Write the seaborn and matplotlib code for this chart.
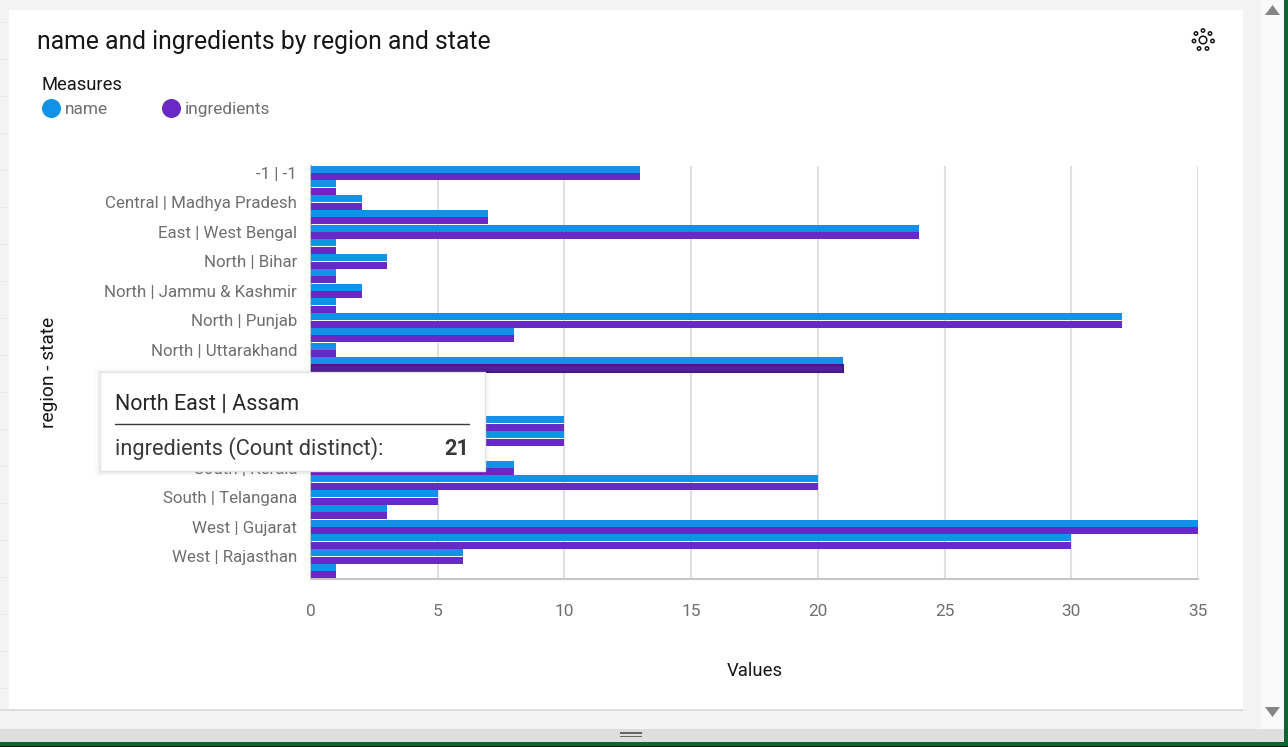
import matplotlib
matplotlib.use('Agg')
import matplotlib.pyplot as plt
from matplotlib.lines import Line2D
from matplotlib.patches import Circle, Polygon, Rectangle
import pandas as pd
import seaborn as sns

# Values. The rows behind the tooltip are estimates.
categories = [
    '-1 | -1', 'Central | Chhattisgarh', 'Central | Madhya Pradesh', 'East | Odisha',
    'East | West Bengal', 'North | Delhi', 'North | Bihar', 'North | Haryana',
    'North | Jammu & Kashmir', 'North | Manipur', 'North | Punjab', 'North | Uttar Pradesh',
    'North | Uttarakhand', 'North East | Assam', 'North East | Manipur', 'North East | Nagaland',
    'North East | Tripura', 'South | Andhra Pradesh', 'South | Goa', 'South | Karnataka',
    'South | Kerala', 'South | Tamil Nadu', 'South | Telangana', 'West | Goa',
    'West | Gujarat', 'West | Maharashtra', 'West | Rajasthan', 'West | Uttar Pradesh',
]
name_counts = [13, 1, 2, 7, 24, 1, 3, 1, 2, 1, 32, 8, 1, 21, 1, 2, 1, 10, 10, 6, 8, 20, 5, 3, 35, 30, 6, 1]
ingredient_counts = [13, 1, 2, 7, 24, 1, 3, 1, 2, 1, 32, 8, 1, 21, 1, 2, 1, 10, 10, 6, 8, 20, 5, 3, 35, 30, 6, 1]
x_ticks = [0, 5, 10, 15, 20, 25, 30, 35]

BLUE = '#1192e8'
PURPLE = '#6929c4'
GREY_TEXT = '#6f6f6f'
DARK_TEXT = '#161616'

W, H = 1288, 747

data = pd.DataFrame({
    'category': categories * 2,
    'value': name_counts + ingredient_counts,
    'measure': ['name'] * len(categories) + ['ingredients'] * len(categories),
})

sns.set_theme(style='white')
plt.rcParams['font.family'] = ['Roboto', 'DejaVu Sans']

fig = plt.figure(figsize=(W / 100, H / 100), dpi=100, facecolor='#f3f3f3')

# --- window chrome behind the chart, drawn in pixel coordinates ---
bg = fig.add_axes([0, 0, 1, 1], zorder=0)
bg.set_xlim(0, W)
bg.set_ylim(H, 0)
bg.axis('off')
for y in range(22, 705, 37):
    bg.add_patch(Rectangle((0, y), 9, 1, color='#ebebeb', lw=0))
bg.add_patch(Rectangle((9, 10), 1234, 699, color='white', lw=0))
bg.add_patch(Rectangle((0, 709), 1243, 2, color='#dcdcdc', lw=0))
bg.add_patch(Rectangle((1261, 0), 23, 729, color='#f9f9f9', lw=0))
bg.add_patch(Rectangle((0, 729), 1284, 13, color='#dedede', lw=0))
bg.add_patch(Rectangle((1284, 0), 4, H, color='#0f6434', lw=0))
bg.add_patch(Rectangle((0, 742), W, 4, color='#0f6434', lw=0))
bg.add_patch(Rectangle((0, 746), W, 1, color='#111111', lw=0))
bg.add_patch(Rectangle((620, 732), 22, 1.5, color='#666666', lw=0))
bg.add_patch(Rectangle((620, 735.5), 22, 1.5, color='#666666', lw=0))
bg.add_patch(Polygon([(1265, 15), (1272.5, 5), (1280, 15)], color='#858585', lw=0))
bg.add_patch(Polygon([(1265, 707), (1272.5, 717), (1280, 707)], color='#858585', lw=0))

# --- the chart ---
ax = fig.add_axes([311 / W, 1 - 578.5 / H, (1198 - 311) / W, (578.5 - 165.5) / H], zorder=1)
ax.patch.set_alpha(0)
sns.barplot(data=data, y='category', x='value', hue='measure', order=categories,
            hue_order=['name', 'ingredients'], palette=[BLUE, PURPLE], orient='y',
            width=1.0, gap=0.06, saturation=1, linewidth=0, legend=False, ax=ax, zorder=3)

ax.set_xlim(0, 35)
ax.set_ylim(len(categories) - 0.5, -0.5)
ax.set_xticks(x_ticks)
ax.set_xticklabels([str(t) for t in x_ticks], fontsize=12.4, color=GREY_TEXT)
ax.set_yticks(range(len(categories)))
ax.set_yticklabels([c if i % 2 == 0 else '' for i, c in enumerate(categories)],
                   fontsize=12.2, color=GREY_TEXT)
ax.tick_params(axis='x', length=0, pad=18.5)
ax.tick_params(axis='y', length=0, pad=10)
ax.grid(axis='x', color='#e0e0e0', lw=1.5, zorder=0)
ax.grid(axis='y', visible=False)
ax.set_axisbelow(True)
for side in ['top', 'right']:
    ax.spines[side].set_visible(False)
ax.spines['bottom'].set_color('#c6c6c6')
ax.spines['bottom'].set_linewidth(1.5)
ax.spines['left'].set_color('#c6c6c6')
ax.spines['left'].set_linewidth(1.5)
ax.set_xlabel('Values', fontsize=13.3, color=DARK_TEXT)
ax.xaxis.set_label_coords((754.5 - 311) / (1198 - 311), -(671 - 578) / (578 - 165))
ax.xaxis.label.set_verticalalignment('center')
ax.set_ylabel('region - state', fontsize=13.8, color=DARK_TEXT)
ax.yaxis.set_label_coords((48.5 - 311) / (1198 - 311), (578 - 372) / (578 - 165))
ax.yaxis.label.set_verticalalignment('center')

# the hovered bar is drawn darker
hovered = ax.containers[1][categories.index('North East | Assam')]
hovered.set_facecolor('#52209c')
hovered.set_edgecolor('#43198a')
hovered.set_linewidth(1.5)

# --- title, legend, tooltip on top ---
top = fig.add_axes([0, 0, 1, 1], zorder=2)
top.set_xlim(0, W)
top.set_ylim(H, 0)
top.axis('off')

top.text(37, 42, 'name and ingredients by region and state', fontsize=17.85,
         color=DARK_TEXT, va='center')

handles = [Line2D([], [], ls='', marker='o', ms=13.7, color=BLUE, mew=0),
           Line2D([], [], ls='', marker='o', ms=13.7, color=PURPLE, mew=0)]
legend = top.legend(handles, ['name', 'ingredients'], title='Measures', ncol=2, frameon=False,
                    loc='upper left', bbox_to_anchor=(35 / W, 1 - 69 / H), alignment='left',
                    fontsize=12.4, title_fontsize=13.2, handletextpad=0.25, columnspacing=3.16,
                    labelcolor=GREY_TEXT, borderaxespad=0, handlelength=1.07, labelspacing=0.6)
legend.get_title().set_color(DARK_TEXT)
legend._legend_box.sep = 6

# gear style icon
for cx, cy in [(1203, 30.5), (1196, 33.5), (1210, 33.5), (1194, 41), (1212.5, 41),
               (1199, 48.5), (1207, 48.5)]:
    top.add_patch(Circle((cx, cy), 1.7, fc='white', ec='#161616', lw=1.1))
top.add_patch(Circle((1203, 40), 3.8, fc='white', ec='#161616', lw=1.1))

# tooltip with a soft shadow
for grow, alpha in [(5, 0.012), (3, 0.02), (1.5, 0.03)]:
    top.add_patch(Rectangle((100 - grow, 372 - grow), 385 + 2 * grow, 99 + 2 * grow + 1,
                            color='black', alpha=alpha, lw=0))
top.add_patch(Rectangle((100, 372), 385, 99, fc='white', ec='#e4e4e4', lw=1))
top.text(115, 404.5, 'North East | Assam', fontsize=15.5, color='#262626', va='center')
top.plot([115, 469], [423.5, 423.5], color='#393939', lw=1)
top.text(115, 449, 'ingredients (Count distinct):', fontsize=15.7, color='#393939', va='center')
top.text(469.5, 449, '21', fontsize=15.7, fontweight='bold', color='#393939', va='center', ha='right')

fig.savefig('out.png', dpi=100, facecolor=fig.get_facecolor())
